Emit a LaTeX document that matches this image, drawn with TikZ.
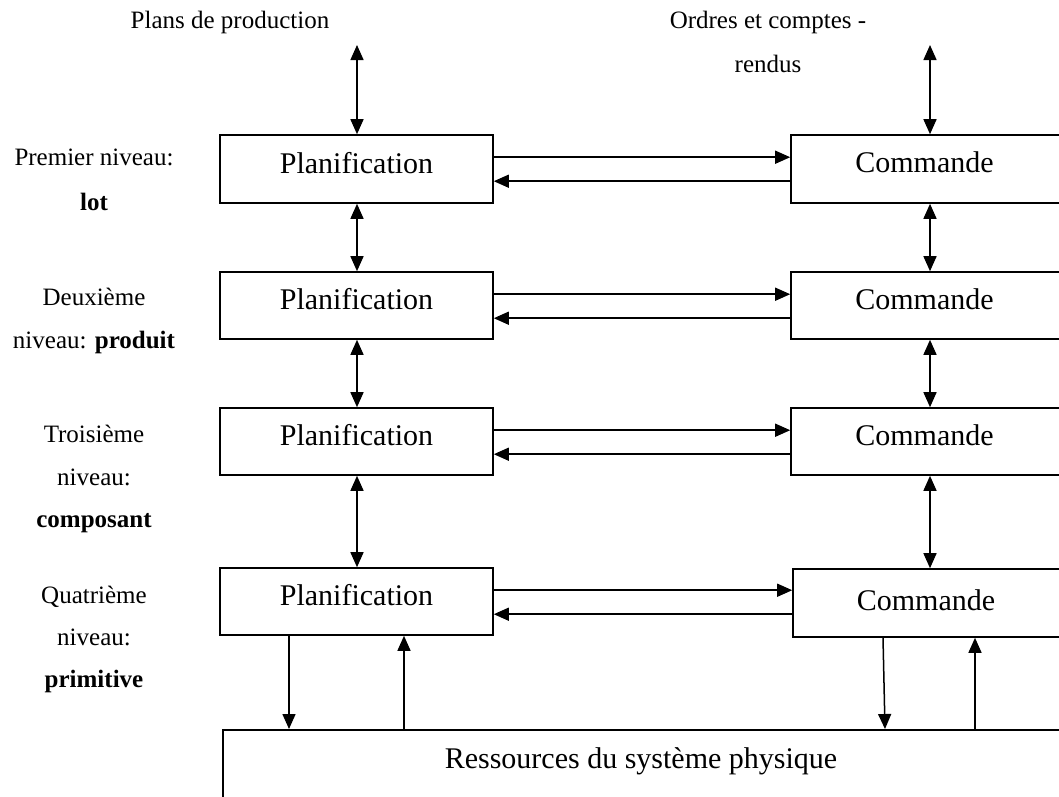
\documentclass[tikz,border=0pt]{standalone}
\usepackage{fontspec}
\setmainfont{Liberation Serif}
\usetikzlibrary{arrows.meta,calc}
\begin{document}
\begin{tikzpicture}[x=1pt,y=-1pt,
  box/.style={draw, line width=1.6pt, rectangle, inner sep=0pt, font=\fontsize{30}{36}\selectfont, text depth=13pt},
  lbl/.style={font=\fontsize{25}{30}\selectfont, anchor=base, inner sep=0pt},
  arr/.style={line width=1.5pt, -{Triangle[length=15pt,width=13pt]}},
  dbl/.style={line width=1.5pt, {Triangle[length=15pt,width=13pt]}-{Triangle[length=15pt,width=13pt]}}
]
\useasboundingbox (0,0) rectangle (1059,796);
\clip (0,0) rectangle (1059,796);

% boxes
\node[box, minimum width=273pt, minimum height=68pt] (p1) at (356.5,169) {Planification};
\node[box, minimum width=273pt, minimum height=67pt] (p2) at (356.5,305.5) {Planification};
\node[box, minimum width=273pt, minimum height=67pt] (p3) at (356.5,441.5) {Planification};
\node[box, minimum width=273pt, minimum height=67pt] (p4) at (356.5,601.5) {Planification};
\node[box, minimum width=319pt, minimum height=68pt] (c1) at (950.5,169) {Commande\rule{52pt}{0pt}};
\node[box, minimum width=319pt, minimum height=67pt] (c2) at (950.5,305.5) {Commande\rule{52pt}{0pt}};
\node[box, minimum width=319pt, minimum height=67pt] (c3) at (950.5,441.5) {Commande\rule{52pt}{0pt}};
\node[box, minimum width=318pt, minimum height=68pt, text depth=6pt] (c4) at (952,603) {Commande\rule{52pt}{0pt}};
\node[draw, line width=1.6pt, minimum width=900pt, minimum height=120pt, anchor=north west, inner sep=0pt] (res) at (222,729) {};
\node[lbl, font=\fontsize{30}{36}\selectfont] (restxt) at (641,768) {Ressources du système physique};

% top labels
\node[lbl] (plans) at (230,28) {Plans de production};
\node[lbl] (ordres1) at (768,28) {Ordres et comptes -};
\node[lbl] (ordres2) at (768,72) {rendus};

% left labels
\node[lbl] (n1a) at (94,165) {Premier niveau:};
\node[lbl] (n1b) at (94,210) {\textbf{lot}};
\node[lbl] (n2a) at (94,305) {Deuxième};
\node[lbl] (n2b) at (94,348) {niveau: \textbf{produit}};
\node[lbl] (n3a) at (94,442) {Troisième};
\node[lbl] (n3b) at (94,485) {niveau:};
\node[lbl] (n3c) at (94,527) {\textbf{composant}};
\node[lbl] (n4a) at (94,603) {Quatrième};
\node[lbl] (n4b) at (94,645) {niveau:};
\node[lbl] (n4c) at (94,687) {\textbf{primitive}};

% coordinates
\coordinate (tl) at (357,45);
\coordinate (tr) at (930,45);
\coordinate (xl) at (357,0);
\coordinate (xr) at (930,0);
\coordinate (xa) at (289,0);
\coordinate (xb) at (404,0);
\coordinate (xc) at (883,0);
\coordinate (xd) at (885,0);
\coordinate (xe) at (975,0);

% top arrows
\draw[dbl] (tl) -- (p1.north -| tl);
\draw[dbl] (tr) -- (c1.north -| tr);

% vertical arrows between levels
\draw[dbl] (p1.south -| xl) -- (p2.north -| xl);
\draw[dbl] (p2.south -| xl) -- (p3.north -| xl);
\draw[dbl] (p3.south -| xl) -- (p4.north -| xl);
\draw[dbl] (c1.south -| xr) -- (c2.north -| xr);
\draw[dbl] (c2.south -| xr) -- (c3.north -| xr);
\draw[dbl] (c3.south -| xr) -- (c4.north -| xr);

% horizontal arrows
\foreach \i in {1,2,3,4} {
  \coordinate (h\i a) at ($(p\i.north east)+(0,23)$);
  \coordinate (h\i b) at ($(p\i.north east)+(0,47)$);
  \draw[arr] (h\i a) -- (h\i a -| c\i.west);
  \draw[arr] (h\i b -| c\i.west) -- (h\i b);
}

% bottom arrows
\draw[arr] (p4.south -| xa) -- (res.north -| xa);
\draw[arr] (res.north -| xb) -- (p4.south -| xb);
\draw[arr] (c4.south -| xc) -- (res.north -| xd);
\draw[arr] (res.north -| xe) -- (c4.south -| xe);
\end{tikzpicture}
\end{document}
